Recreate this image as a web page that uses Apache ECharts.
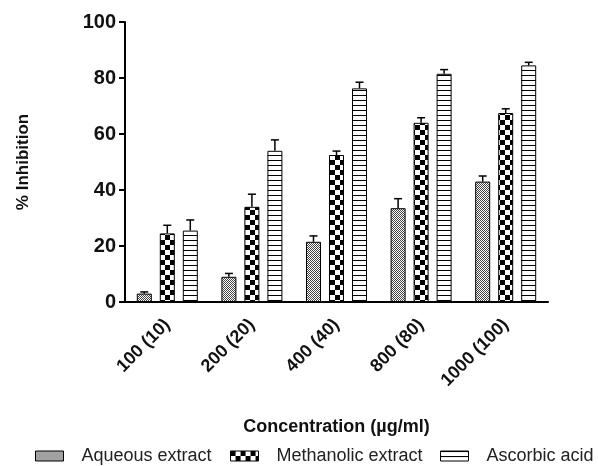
<!DOCTYPE html>
<html>
<head>
    <meta charset="utf-8">
    <title>ECharts</title>
    <script src="https://cdn.jsdelivr.net/npm/echarts@6/dist/echarts.min.js"></script>
</head>
<body style="margin:0;background:#fff;">
<div id="main" style="width:598px;height:466px;"></div>
<script type="text/javascript">
    // data
    var categories = ['100 (10)', '200 (20)', '400 (40)', '800 (80)', '1000 (100)'];
    var seriesNames = ['Aqueous extract', 'Methanolic extract', 'Ascorbic acid'];
    var aqueous = [3, 9, 21.5, 33.5, 43];
    var methanolic = [24.5, 34, 52.5, 64, 67.5];
    var ascorbic = [25.5, 54, 76.3, 81.5, 84.5];
    var aqueousErr = [0.6, 1.2, 2.1, 3.4, 2.0];
    var methanolicErr = [2.9, 4.5, 1.4, 1.8, 1.5];
    var ascorbicErr = [3.8, 3.9, 2.2, 1.5, 1.1];
    var yTicks = [0, 20, 40, 60, 80, 100];

    var myChart = echarts.init(document.getElementById('main'));

    // fill patterns drawn on small canvases
    function makePattern(kind) {
        var c = document.createElement('canvas');
        var ctx = c.getContext('2d');
        if (kind === 'fine') {
            c.width = 2; c.height = 2;
            ctx.fillStyle = '#fff'; ctx.fillRect(0, 0, 2, 2);
            ctx.fillStyle = '#444';
            ctx.fillRect(0, 0, 1, 1);
            ctx.fillRect(1, 1, 1, 1);
        } else if (kind === 'checker') {
            c.width = 10; c.height = 10;
            ctx.fillStyle = '#fff'; ctx.fillRect(0, 0, 10, 10);
            ctx.fillStyle = '#000';
            ctx.fillRect(0, 0, 5, 5);
            ctx.fillRect(5, 5, 5, 5);
        } else {
            c.width = 4; c.height = 5;
            ctx.fillStyle = '#fff'; ctx.fillRect(0, 0, 4, 5);
            ctx.fillStyle = '#000';
            ctx.fillRect(0, 0, 4, 1);
        }
        return {image: c, repeat: 'repeat'};
    }

    var fills = [makePattern('fine'), makePattern('checker'), makePattern('stripes')];
    var values = [aqueous, methanolic, ascorbic];
    var errors = [aqueousErr, methanolicErr, ascorbicErr];

    var barW = 15;
    var barGapPx = 8;

    function errRender(offset) {
        return function (params, api) {
            var x = api.value(0), v = api.value(1), e = api.value(2);
            var p0 = api.coord([x, v]);
            var p1 = api.coord([x, v + e]);
            var cx = p0[0] + offset;
            return {
                type: 'group',
                children: [{
                    type: 'line',
                    shape: {x1: cx, y1: p0[1], x2: cx, y2: p1[1]},
                    style: {stroke: '#000', lineWidth: 1.5}
                }, {
                    type: 'line',
                    shape: {x1: cx - 4, y1: p1[1], x2: cx + 4, y2: p1[1]},
                    style: {stroke: '#000', lineWidth: 1.5}
                }]
            };
        };
    }

    var series = [];
    for (var i = 0; i < 3; i++) {
        series.push({
            name: seriesNames[i],
            type: 'bar',
            barWidth: barW,
            barGap: (barGapPx / barW * 100) + '%',
            data: values[i],
            itemStyle: {color: fills[i], borderColor: '#000', borderWidth: 1}
        });
    }
    for (var j = 0; j < 3; j++) {
        var errData = [];
        for (var k = 0; k < categories.length; k++) {
            errData.push([k, values[j][k], errors[j][k]]);
        }
        series.push({
            type: 'custom',
            renderItem: errRender((j - 1) * (barW + barGapPx)),
            data: errData,
            z: 5,
            silent: true
        });
    }

    // one legend per entry so each sits where the figure has it
    var legendLeft = [35, 230, 440];
    var legends = seriesNames.map(function (name, idx) {
        return {
            data: [name],
            left: legendLeft[idx],
            top: 447,
            padding: 0,
            icon: 'rect',
            itemWidth: 28,
            itemHeight: 10,
            selectedMode: false,
            textStyle: {fontSize: 18, color: '#222', padding: [0, 0, 0, 13]},
            itemStyle: {borderColor: '#000', borderWidth: 1}
        };
    });

    option = {
        backgroundColor: '#fff',
        animation: false,
        textStyle: {fontFamily: 'Liberation Sans, Arial, sans-serif'},
        grid: {left: 125, right: 50, top: 22, bottom: 164},
        legend: legends,
        xAxis: {
            type: 'category',
            data: categories,
            name: 'Concentration (\u00b5g/ml)',
            nameLocation: 'middle',
            nameGap: 116,
            nameTextStyle: {fontSize: 18, fontWeight: 'bold', color: '#111'},
            axisLine: {lineStyle: {color: '#000', width: 2}},
            axisTick: {alignWithLabel: true, length: 7, lineStyle: {color: '#000', width: 2}},
            axisLabel: {rotate: 45, fontSize: 18, fontWeight: 'bold', color: '#111', margin: 20}
        },
        yAxis: {
            type: 'value',
            min: yTicks[0],
            max: yTicks[yTicks.length - 1],
            interval: 20,
            name: '% Inhibition',
            nameLocation: 'middle',
            nameGap: 93,
            nameTextStyle: {fontSize: 17, fontWeight: 'bold', color: '#111'},
            splitLine: {show: false},
            axisLine: {show: true, lineStyle: {color: '#000', width: 2}},
            axisTick: {show: true, length: 6, lineStyle: {color: '#000', width: 2}},
            axisLabel: {fontSize: 20, fontWeight: 'bold', color: '#111', margin: 9}
        },
        series: series
    };

    myChart.setOption(option);
</script>
</body>
</html>
